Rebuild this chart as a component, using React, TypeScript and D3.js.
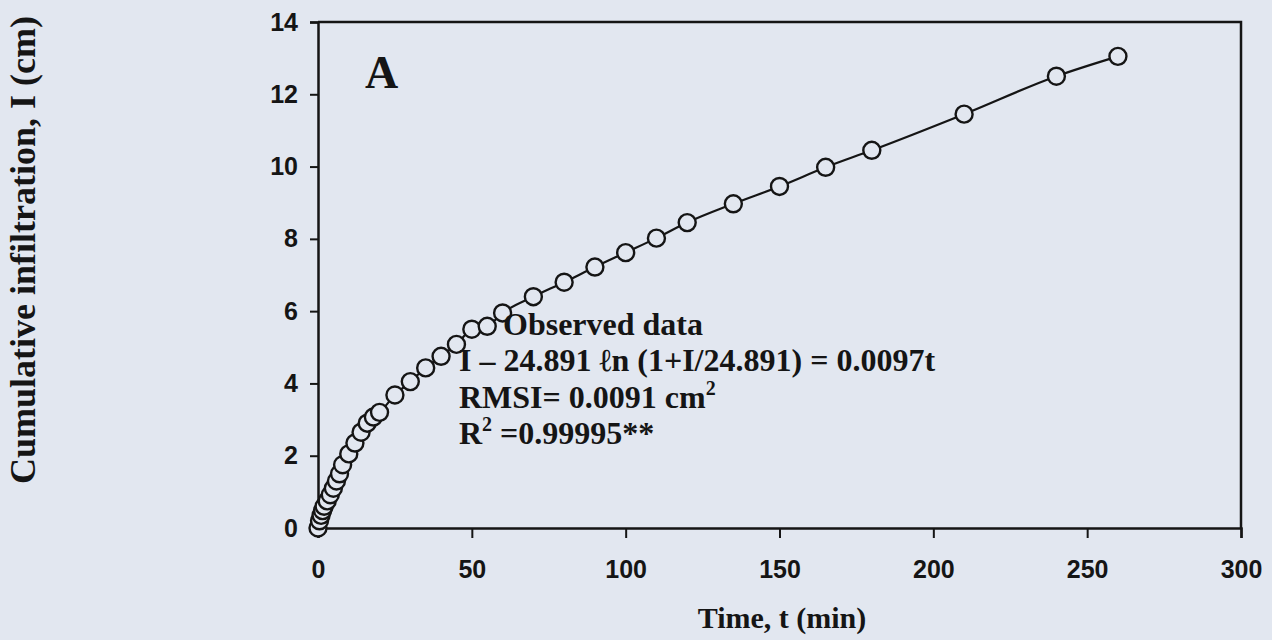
import React, { useEffect, useRef } from 'react'
import * as d3 from 'd3'

// observed cumulative infiltration
const timeMin = [
  0, 0.5, 1, 1.5, 2, 3, 4, 5, 6, 7, 8, 10, 12, 14, 16, 18, 20, 25, 30, 35, 40,
  45, 50, 55, 60, 70, 80, 90, 100, 110, 120, 135, 150, 165, 180, 210, 240, 260,
]
const infiltration = [
  0, 0.2, 0.35, 0.48, 0.6, 0.75, 0.92, 1.1, 1.3, 1.5, 1.75, 2.05, 2.35, 2.65,
  2.9, 3.07, 3.2, 3.68, 4.05, 4.43, 4.75, 5.08, 5.5, 5.58, 5.95, 6.4, 6.8, 7.22,
  7.62, 8.02, 8.45, 8.97, 9.45, 9.98, 10.45, 11.45, 12.5, 13.05,
]

const xTicks = [0, 50, 100, 150, 200, 250, 300]
const yTicks = [0, 2, 4, 6, 8, 10, 12, 14]

const W = 1272
const H = 640
const BG = '#e2e7f0'
const INK = '#151515'
const SANS = "'Liberation Sans', Arial, sans-serif"
const SERIF = "'Liberation Serif', 'Times New Roman', serif"

const App = () => {
  const svgRef = useRef<SVGSVGElement | null>(null)

  useEffect(() => {
    const svg = d3.select(svgRef.current)
    svg.selectAll('*').remove()

    const x = d3.scaleLinear().domain([0, 300]).range([318, 1241])
    const y = d3.scaleLinear().domain([0, 14]).range([528, 22])

    svg.append('rect').attr('width', W).attr('height', H).attr('fill', BG)

    // frame: top + right border
    svg
      .append('path')
      .attr('d', `M${x(0)},${y(14)}H${x(300)}V${y(0)}`)
      .attr('fill', 'none')
      .attr('stroke', INK)
      .attr('stroke-width', 2.5)

    // x axis
    const xAxis = svg
      .append('g')
      .attr('transform', `translate(0,${y(0)})`)
      .call(d3.axisBottom(x).tickValues(xTicks).tickSize(10).tickPadding(22))
    xAxis.select('.domain').attr('stroke', INK).attr('stroke-width', 2.5)
    xAxis.selectAll('.tick line').attr('stroke', INK).attr('stroke-width', 2)
    xAxis
      .selectAll('.tick text')
      .attr('fill', INK)
      .style('font-family', SANS)
      .style('font-weight', 'bold')
      .style('font-size', '25px')

    // y axis
    const yAxis = svg
      .append('g')
      .attr('transform', `translate(${x(0)},0)`)
      .call(d3.axisLeft(y).tickValues(yTicks).tickSize(8).tickPadding(12))
    yAxis.select('.domain').attr('stroke', INK).attr('stroke-width', 2.5)
    yAxis.selectAll('.tick line').attr('stroke', INK).attr('stroke-width', 2)
    yAxis
      .selectAll('.tick text')
      .attr('fill', INK)
      .style('font-family', SANS)
      .style('font-weight', 'bold')
      .style('font-size', '25px')

    const pts = timeMin.map((t, i) => [t, infiltration[i]] as [number, number])

    // fitted curve
    const line = d3
      .line<[number, number]>()
      .x((d) => x(d[0]))
      .y((d) => y(d[1]))
      .curve(d3.curveMonotoneX)
    svg
      .append('path')
      .datum(pts)
      .attr('d', line)
      .attr('fill', 'none')
      .attr('stroke', INK)
      .attr('stroke-width', 2.2)

    // observed points
    svg
      .selectAll('.obs')
      .data(pts)
      .join('circle')
      .attr('class', 'obs')
      .attr('cx', (d) => x(d[0]))
      .attr('cy', (d) => y(d[1]))
      .attr('r', 8.5)
      .attr('fill', BG)
      .attr('stroke', INK)
      .attr('stroke-width', 2.4)

    // panel letter
    svg
      .append('text')
      .attr('x', 365)
      .attr('y', 88)
      .text('A')
      .attr('fill', INK)
      .style('font-family', SERIF)
      .style('font-weight', 'bold')
      .style('font-size', '46px')

    // annotation
    const note = svg
      .append('g')
      .attr('fill', INK)
      .style('font-family', SERIF)
      .style('font-weight', 'bold')
      .style('font-size', '32px')
    note.append('text').attr('x', 503).attr('y', 335).text('Observed data')
    note
      .append('text')
      .attr('x', 459)
      .attr('y', 371)
      .text('I \u2013 24.891 \u2113n (1+I/24.891) = 0.0097t')
    const rmsi = note.append('text').attr('x', 459).attr('y', 408)
    rmsi.append('tspan').text('RMSI= 0.0091 cm')
    rmsi
      .append('tspan')
      .attr('dy', -13)
      .style('font-size', '20px')
      .text('2')
    const r2 = note.append('text').attr('x', 459).attr('y', 444)
    r2.append('tspan').text('R')
    r2.append('tspan').attr('dy', -13).style('font-size', '20px').text('2')
    r2.append('tspan').attr('dy', 13).text(' =0.99995**')

    // axis titles
    svg
      .append('text')
      .attr('x', 782)
      .attr('y', 628)
      .attr('text-anchor', 'middle')
      .text('Time, t (min)')
      .attr('fill', INK)
      .style('font-family', SERIF)
      .style('font-weight', 'bold')
      .style('font-size', '30px')

    svg
      .append('text')
      .attr('transform', 'translate(35,250) rotate(-90)')
      .attr('text-anchor', 'middle')
      .text('Cumulative infiltration, I (cm)')
      .attr('fill', INK)
      .style('font-family', SERIF)
      .style('font-weight', 'bold')
      .style('font-size', '36px')
  }, [])

  return (
    <svg
      ref={svgRef}
      width={W}
      height={H}
      style={{ position: 'absolute', left: 0, top: 0, display: 'block' }}
    />
  )
}

export default App
